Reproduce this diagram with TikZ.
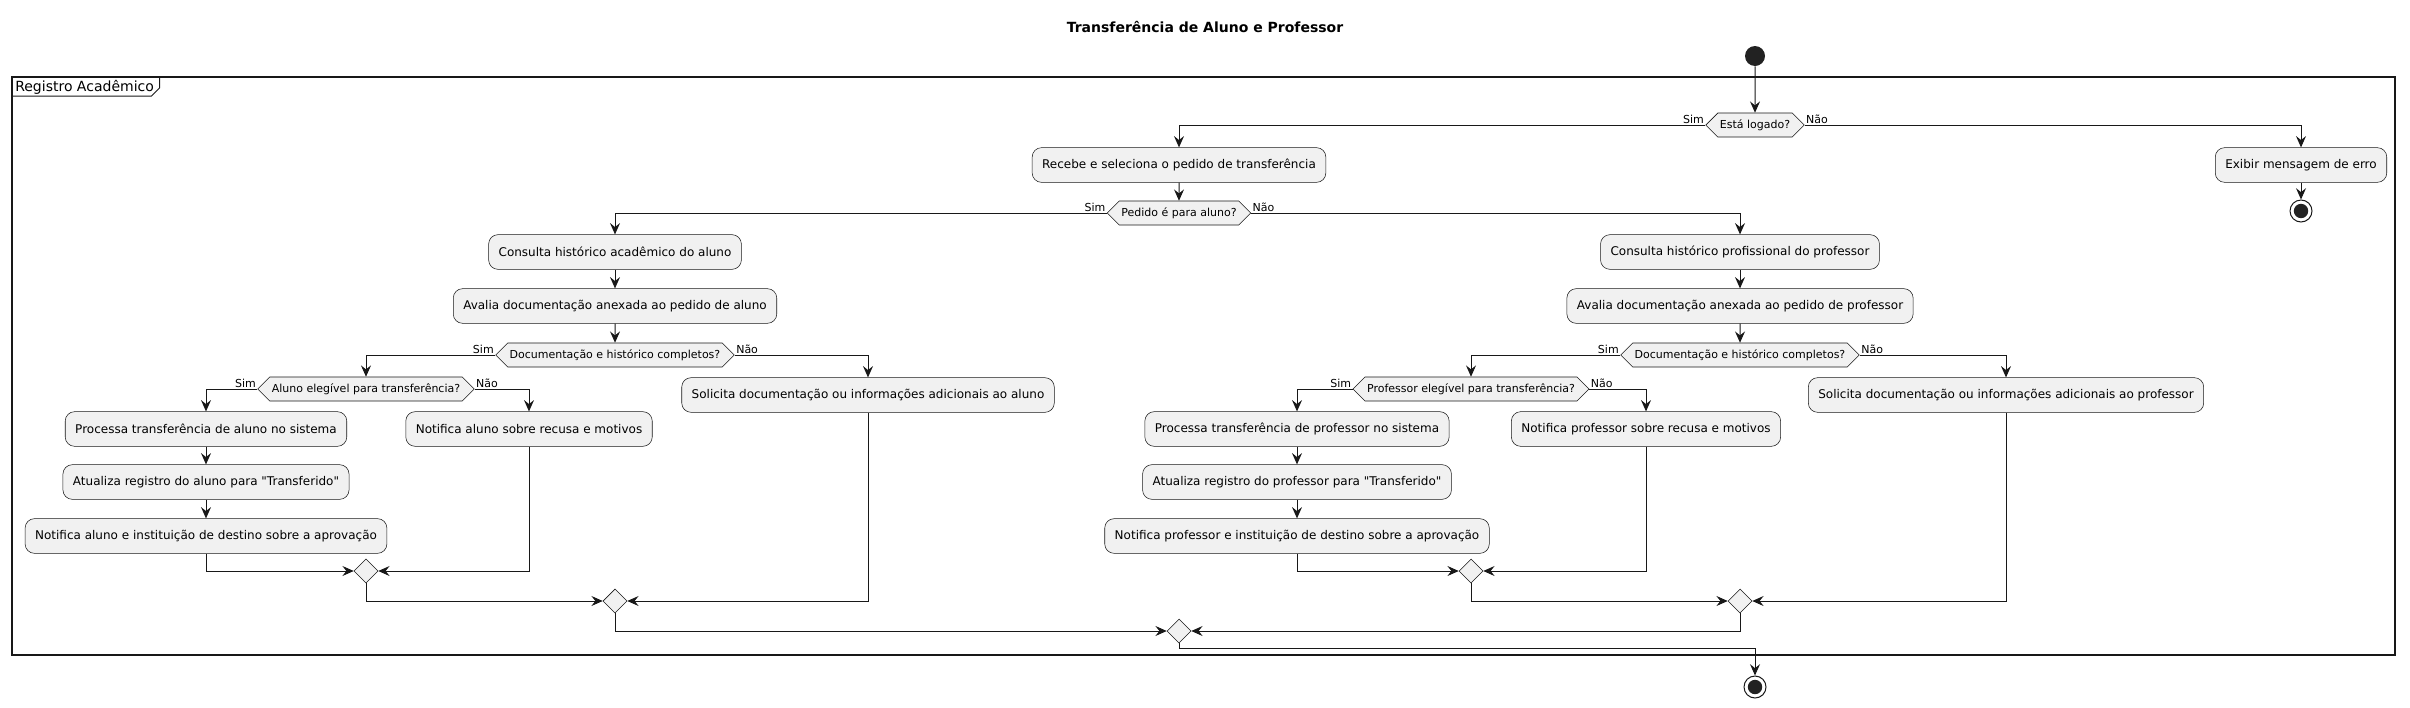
\documentclass[tikz,border=0pt]{standalone}
\usepackage{fontspec}
\setmainfont{DejaVu Sans}[Ligatures=TeXOff]
\usetikzlibrary{arrows.meta,shapes.geometric,shapes.symbols}
\definecolor{umlfill}{HTML}{F1F1F1}
\definecolor{umlline}{HTML}{181818}
\definecolor{umldot}{HTML}{222222}

\begin{document}
\begin{tikzpicture}[x=0.75pt,y=-0.75pt,
		acao/.style={draw=umlline,line width=0.4pt,fill=umlfill,rounded corners=7pt,inner xsep=7.5pt,minimum height=26pt,font=\fontsize{9pt}{11pt}\selectfont},
		teste/.style={draw=umlline,line width=0.4pt,fill=umlfill,signal,signal to=east and west,signal pointer angle=90,inner xsep=1.5pt,inner ysep=0pt,minimum height=18pt,font=\fontsize{8.25pt}{10pt}\selectfont},
		juncao/.style={draw=umlline,line width=0.4pt,fill=umlfill,diamond,inner sep=0pt,minimum width=18pt,minimum height=18pt},
		inicio/.style={circle,fill=umldot,inner sep=0pt,minimum size=15pt},
		fim/.style={circle,draw=umlline,line width=0.75pt,fill=white,inner sep=0pt,minimum size=16.5pt,path picture={\fill[umldot] (path picture bounding box.center) circle (5.4pt);}},
		seta/.style={-{Stealth[length=8.5pt,width=7.5pt,inset=3pt]},draw=umlline,line width=0.75pt},
		rotulo/.style={font=\fontsize{8.25pt}{10pt}\selectfont,inner sep=1pt}]
				\useasboundingbox (0,0) rectangle (2410,707);
				
				\node (titulo) at (1205,27) [font=\bfseries\fontsize{10.5pt}{12pt}\selectfont] {Transferência de Aluno e Professor};
				
				% grupo
				\draw[umlline,line width=1.1pt] (12,77) rectangle (2395,655);
				\node (grupo) at (15,87) [anchor=west,inner sep=0pt,font=\fontsize{10.5pt}{12pt}\selectfont] {Registro Acadêmico};
				\draw[umlline,line width=0.75pt] (12,96) -- ([xshift=-2pt]grupo.east |- 0,96) -- ([xshift=4pt]grupo.east |- 0,88) -- ([xshift=4pt]grupo.east |- 0,77);
				
				\node (start) at (1755,56) [inicio] {};
				\node (logado) at (1755,125) [teste] {Está logado?};
				\node (recebe) at (1179,165) [acao] {Recebe e seleciona o pedido de transferência};
				\node (erro) at (2301,165) [acao] {Exibir mensagem de erro};
				\node (stop1) at (2301,211) [fim] {};
				\node (pedido) at (1179,213) [teste] {Pedido é para aluno?};
				
				\node (consAluno) at (615,252) [acao] {Consulta histórico acadêmico do aluno};
				\node (avalAluno) at (615,306) [acao] {Avalia documentação anexada ao pedido de aluno};
				\node (docAluno) at (615,355) [teste] {Documentação e histórico completos?};
				\node (elegAluno) at (366,389) [teste] {Aluno elegível para transferência?};
				\node (solAluno) at (868,395) [acao] {Solicita documentação ou informações adicionais ao aluno};
				\node (procAluno) at (206,429) [acao] {Processa transferência de aluno no sistema};
				\node (atuAluno) at (206,482) [acao] {Atualiza registro do aluno para "Transferido"};
				\node (aprovAluno) at (206,536) [acao] {Notifica aluno e instituição de destino sobre a aprovação};
				\node (recusaAluno) at (529,429) [acao] {Notifica aluno sobre recusa e motivos};
				\node (m1) at (366,571) [juncao] {};
				\node (m2) at (615,601) [juncao] {};
				
				\node (consProf) at (1740,252) [acao] {Consulta histórico profissional do professor};
				\node (avalProf) at (1740,306) [acao] {Avalia documentação anexada ao pedido de professor};
				\node (docProf) at (1740,355) [teste] {Documentação e histórico completos?};
				\node (elegProf) at (1471,389) [teste] {Professor elegível para transferência?};
				\node (solProf) at (2006,395) [acao] {Solicita documentação ou informações adicionais ao professor};
				\node (procProf) at (1297,429) [acao] {Processa transferência de professor no sistema};
				\node (atuProf) at (1297,482) [acao] {Atualiza registro do professor para "Transferido"};
				\node (aprovProf) at (1297,536) [acao] {Notifica professor e instituição de destino sobre a aprovação};
				\node (recusaProf) at (1646,429) [acao] {Notifica professor sobre recusa e motivos};
				\node (m3) at (1471,571) [juncao] {};
				\node (m4) at (1740,601) [juncao] {};
				
				\node (m5) at (1179,631) [juncao] {};
				\node (stop2) at (1755,687) [fim] {};
				
				% rotulos Sim / Nao
				\foreach \d in {logado,pedido,docAluno,elegAluno,docProf,elegProf} {
					\node at (\d.west) [rotulo,anchor=south east] {Sim};
					\node at (\d.east) [rotulo,anchor=south west] {Não};
				}
				
				\draw[seta] (start) -- (logado);
				\draw[seta] (logado.west) -| (recebe.north);
				\draw[seta] (logado.east) -| (erro.north);
				\draw[seta] (erro) -- (stop1);
				\draw[seta] (recebe) -- (pedido);
				\draw[seta] (pedido.west) -| (consAluno.north);
				\draw[seta] (pedido.east) -| (consProf.north);
				
				\draw[seta] (consAluno) -- (avalAluno);
				\draw[seta] (avalAluno) -- (docAluno);
				\draw[seta] (docAluno.west) -| (elegAluno.north);
				\draw[seta] (docAluno.east) -| (solAluno.north);
				\draw[seta] (elegAluno.west) -| (procAluno.north);
				\draw[seta] (elegAluno.east) -| (recusaAluno.north);
				\draw[seta] (procAluno) -- (atuAluno);
				\draw[seta] (atuAluno) -- (aprovAluno);
				\draw[seta] (aprovAluno.south) |- (m1.west);
				\draw[seta] (recusaAluno.south) |- (m1.east);
				\draw[seta] (m1.south) |- (m2.west);
				\draw[seta] (solAluno.south) |- (m2.east);
				
				\draw[seta] (consProf) -- (avalProf);
				\draw[seta] (avalProf) -- (docProf);
				\draw[seta] (docProf.west) -| (elegProf.north);
				\draw[seta] (docProf.east) -| (solProf.north);
				\draw[seta] (elegProf.west) -| (procProf.north);
				\draw[seta] (elegProf.east) -| (recusaProf.north);
				\draw[seta] (procProf) -- (atuProf);
				\draw[seta] (atuProf) -- (aprovProf);
				\draw[seta] (aprovProf.south) |- (m3.west);
				\draw[seta] (recusaProf.south) |- (m3.east);
				\draw[seta] (m3.south) |- (m4.west);
				\draw[seta] (solProf.south) |- (m4.east);
				
				\draw[seta] (m2.south) |- (m5.west);
				\draw[seta] (m4.south) |- (m5.east);
				\draw[seta] (m5.south) -- ++(0,5) -| (stop2.north);
			\end{tikzpicture}
\end{document}
